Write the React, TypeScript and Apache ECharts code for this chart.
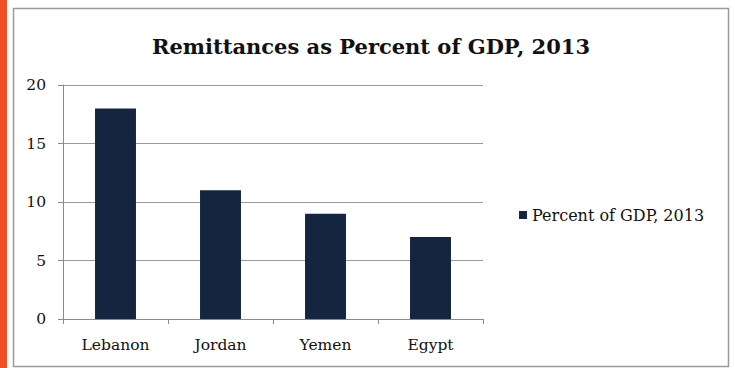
import React, { useEffect, useRef } from "react";
import * as echarts from "echarts";

const categories = ["Lebanon", "Jordan", "Yemen", "Egypt"];
const percentOfGdp = [18, 11, 9, 7];
const seriesName = "Percent of GDP, 2013";
const titleText = "Remittances as Percent of GDP, 2013";

export default function App() {
  const ref = useRef<HTMLDivElement>(null);
  useEffect(() => {
    if (!ref.current) return;
    const chart = echarts.init(ref.current, null, { renderer: "svg" });
    const font = "'DejaVu Serif', serif";
    chart.setOption({
      animation: false,
      backgroundColor: "#ffffff",
      title: {
        text: titleText,
        left: 366,
        textAlign: "center",
        top: 31,
        textStyle: { fontFamily: font, fontSize: 21, fontWeight: "bold", color: "#111" },
      },
      graphic: [
        { type: "rect", left: 0, top: 0, shape: { width: 7, height: 368 }, style: { fill: "#F04E23" } },
        {
          type: "rect",
          shape: { x: 13.5, y: 8.5, width: 715, height: 358 },
          style: { fill: "none", stroke: "#9a9a9a", lineWidth: 1.5 },
          silent: true,
        },
      ],
      legend: {
        left: 514,
        top: 202,
        icon: "rect",
        itemWidth: 8,
        itemHeight: 8,
        itemGap: 6,
        textStyle: { fontFamily: font, fontSize: 16, color: "#111", padding: [0, 0, 0, 0] },
        data: [seriesName],
      },
      grid: { left: 63, right: 252, top: 85, bottom: 49, containLabel: false },
      xAxis: {
        type: "category",
        data: categories,
        axisLine: { lineStyle: { color: "#8a8a8a", width: 1 } },
        axisTick: { show: true, length: 5, alignWithLabel: false, lineStyle: { color: "#8a8a8a" } },
        axisLabel: { fontFamily: font, fontSize: 15.5, color: "#111", margin: 18 },
      },
      yAxis: {
        type: "value",
        min: 0,
        max: 20,
        interval: 5,
        axisLine: { show: true, lineStyle: { color: "#8a8a8a", width: 1 } },
        axisTick: { show: true, length: 5, lineStyle: { color: "#8a8a8a" } },
        axisLabel: { fontFamily: font, fontSize: 15.5, color: "#111", margin: 17 },
        splitLine: { lineStyle: { color: "#9a9a9a", width: 1 } },
      },
      series: [
        {
          name: seriesName,
          type: "bar",
          data: percentOfGdp,
          barWidth: "39%",
          itemStyle: { color: "#14253F" },
        },
      ],
    });
    return () => chart.dispose();
  }, []);
  return (
    <div style={{ position: "fixed", left: 0, top: 0, width: 735, height: 368, background: "#fff" }}>
      <div ref={ref} style={{ width: 735, height: 368 }} />
    </div>
  );
}
